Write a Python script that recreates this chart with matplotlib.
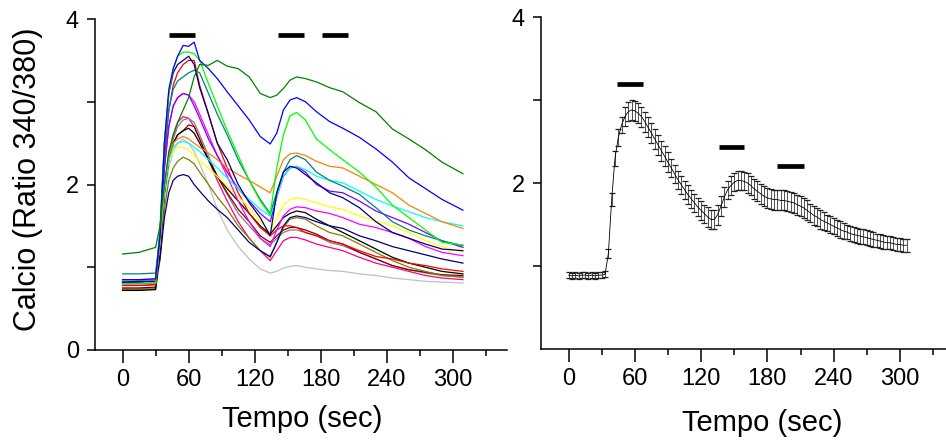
import numpy as np
import matplotlib
matplotlib.use("Agg")
import matplotlib.pyplot as plt
from matplotlib.ticker import FixedLocator

plt.rcParams['font.family'] = ['Liberation Sans', 'DejaVu Sans']

# ---------------- data: left panel (individual cells) ----------------
t_cells = [0, 15, 30, 34, 38, 42, 46, 50, 55, 60, 65, 70, 78, 86, 95, 105, 115, 125,
           134, 140, 146, 152, 158, 166, 176, 188, 200, 215, 230, 245, 260, 275, 290, 309]

cell_dkgreen = [1.16,1.18,1.24,1.5,2.0,2.4,2.6,2.75,2.9,3.05,3.3,3.45,3.44,3.5,3.43,3.4,3.3,3.1,3.05,3.08,3.16,3.26,3.3,3.28,3.24,3.17,3.12,2.99,2.88,2.67,2.55,2.42,2.27,2.13]
cell_blue = [0.85,0.85,0.86,1.4,2.5,3.15,3.4,3.55,3.68,3.67,3.72,3.5,3.4,3.28,3.12,2.95,2.78,2.58,2.49,2.62,2.9,3.02,3.05,3.0,2.88,2.76,2.68,2.57,2.43,2.27,2.08,1.95,1.82,1.69]
cell_lime = [0.8,0.8,0.81,1.5,2.5,3.1,3.4,3.55,3.6,3.6,3.58,3.5,3.22,2.95,2.65,2.35,2.05,1.8,1.63,2.2,2.6,2.83,2.87,2.78,2.55,2.42,2.3,2.15,1.97,1.75,1.6,1.45,1.3,1.27]
cell_navy = [0.82,0.83,0.83,1.4,2.5,3.1,3.35,3.45,3.5,3.55,3.45,3.17,2.85,2.5,2.3,2.0,1.78,1.6,1.38,1.9,2.15,2.22,2.2,2.12,2.02,1.9,1.84,1.72,1.55,1.42,1.35,1.28,1.22,1.2]
cell_red = [0.78,0.78,0.79,1.3,2.3,2.9,3.2,3.35,3.45,3.5,3.5,3.2,2.85,2.5,2.2,1.9,1.65,1.48,1.38,1.45,1.5,1.5,1.48,1.42,1.38,1.32,1.28,1.2,1.13,1.1,1.05,1.02,0.98,0.95]
cell_teal = [0.92,0.92,0.93,1.4,2.4,2.9,3.15,3.25,3.3,3.35,3.38,3.35,3.1,2.85,2.6,2.3,2.05,1.82,1.65,1.9,2.15,2.3,2.35,2.3,2.15,2.05,1.98,1.88,1.72,1.55,1.45,1.38,1.32,1.26]
cell_orange = [0.85,0.85,0.86,1.3,2.0,2.35,2.5,2.55,2.58,2.55,2.5,2.45,2.38,2.3,2.2,2.12,2.05,1.97,1.9,2.1,2.3,2.37,2.38,2.35,2.28,2.22,2.2,2.1,2.0,1.9,1.75,1.65,1.55,1.47]
cell_cyan = [0.84,0.84,0.85,1.3,1.9,2.3,2.45,2.5,2.52,2.5,2.45,2.4,2.3,2.2,2.08,1.95,1.82,1.7,1.62,1.85,2.1,2.2,2.22,2.18,2.1,2.05,2.02,1.92,1.82,1.74,1.67,1.6,1.55,1.5]
cell_purple = [0.84,0.84,0.85,1.3,2.2,2.7,2.95,3.05,3.1,3.08,2.95,2.8,2.55,2.35,2.15,1.95,1.8,1.65,1.55,1.85,2.1,2.2,2.22,2.15,2.0,1.92,1.9,1.8,1.68,1.6,1.52,1.42,1.32,1.24]
cell_magenta = [0.8,0.8,0.81,1.3,2.2,2.7,2.95,3.05,3.1,3.08,3.0,2.85,2.6,2.35,2.1,1.8,1.55,1.35,1.25,1.45,1.62,1.7,1.73,1.72,1.68,1.65,1.6,1.52,1.48,1.42,1.35,1.25,1.18,1.14]
cell_yellow = [0.8,0.8,0.81,1.3,2.0,2.3,2.4,2.45,2.45,2.42,2.35,2.28,2.2,2.1,1.98,1.85,1.72,1.55,1.43,1.6,1.75,1.82,1.84,1.82,1.78,1.73,1.7,1.62,1.56,1.5,1.42,1.32,1.25,1.18]
cell_black = [0.72,0.72,0.73,1.2,1.9,2.3,2.5,2.6,2.65,2.68,2.62,2.5,2.3,2.1,1.95,1.8,1.65,1.5,1.4,1.5,1.6,1.65,1.68,1.66,1.58,1.5,1.42,1.32,1.22,1.12,1.05,1.0,0.95,0.92]
cell_wine = [0.75,0.75,0.76,1.2,1.9,2.3,2.5,2.6,2.65,2.72,2.7,2.55,2.3,2.1,1.9,1.7,1.55,1.38,1.3,1.38,1.45,1.48,1.48,1.45,1.4,1.32,1.28,1.18,1.1,1.02,0.97,0.94,0.91,0.9]
cell_gray = [0.74,0.74,0.75,1.2,1.9,2.35,2.55,2.7,2.78,2.8,2.75,2.6,2.35,2.1,1.88,1.65,1.5,1.35,1.27,1.35,1.42,1.45,1.45,1.42,1.38,1.3,1.26,1.18,1.1,1.02,0.97,0.93,0.9,0.88]
cell_olive = [0.73,0.73,0.74,1.1,1.7,2.05,2.2,2.28,2.33,2.3,2.25,2.15,2.0,1.85,1.7,1.5,1.35,1.2,1.12,1.3,1.48,1.58,1.6,1.58,1.5,1.42,1.38,1.28,1.18,1.08,1.0,0.95,0.9,0.88]
cell_navy2 = [0.82,0.82,0.83,1.1,1.6,1.9,2.05,2.1,2.12,2.1,2.0,1.92,1.8,1.7,1.6,1.45,1.3,1.2,1.13,1.3,1.5,1.6,1.62,1.6,1.55,1.5,1.47,1.38,1.32,1.25,1.2,1.15,1.1,1.05]
cell_pink = [0.78,0.78,0.79,1.2,1.9,2.35,2.6,2.75,2.82,2.8,2.7,2.55,2.3,2.05,1.8,1.55,1.35,1.2,1.08,1.2,1.32,1.36,1.36,1.33,1.28,1.24,1.2,1.12,1.05,1.0,0.95,0.9,0.87,0.85]
cell_ltgray = [0.72,0.72,0.73,1.1,1.8,2.2,2.4,2.5,2.55,2.5,2.4,2.25,2.0,1.7,1.45,1.25,1.1,0.98,0.93,0.95,0.99,1.01,1.02,1.0,0.98,0.96,0.95,0.92,0.9,0.87,0.85,0.83,0.82,0.81]

cells = [
    (cell_ltgray, '#C0C0C0'), (cell_pink, '#FF0080'), (cell_gray, '#808080'),
    (cell_wine, '#800000'), (cell_olive, '#808000'), (cell_black, '#000000'),
    (cell_navy2, '#000080'), (cell_red, '#FF0000'), (cell_yellow, '#FFFF00'),
    (cell_magenta, '#FF00FF'), (cell_purple, '#8000FF'), (cell_cyan, '#00FFFF'),
    (cell_teal, '#008080'), (cell_orange, '#FF8000'), (cell_navy, '#000080'),
    (cell_lime, '#00FF00'), (cell_blue, '#0000FF'), (cell_dkgreen, '#008000'),
]

# stimulus bars (start, end, level)
bars_left = [(42, 66, 3.81), (141, 165, 3.81), (181, 205, 3.81)]
bars_right = [(44, 67, 3.19), (136, 159, 2.43), (189, 213, 2.20)]

# ---------------- data: right panel (mean +/- SEM) ----------------
t_mean = np.arange(0, 307, 3)
mean_r = [0.89,0.88,0.89,0.88,0.89,0.89,0.88,0.89,0.88,0.89,0.89,0.90,
          1.15,1.8,2.3,2.55,2.7,2.8,2.86,2.88,2.87,2.84,2.8,
          2.74,2.67,2.6,2.53,2.46,2.39,2.32,2.25,2.18,2.11,2.04,
          1.98,1.92,1.86,1.81,1.76,1.71,1.67,1.63,1.59,1.56,1.56,
          1.62,1.72,1.83,1.92,1.97,2.01,2.03,2.03,2.02,2.0,1.97,
          1.93,1.9,1.87,1.84,1.82,1.81,1.8,1.8,1.79,1.79,1.78,
          1.77,1.76,1.74,1.72,1.7,1.67,1.64,1.61,1.59,1.56,1.54,
          1.52,1.5,1.48,1.46,1.44,1.42,1.41,1.39,1.38,1.37,1.36,
          1.35,1.34,1.33,1.32,1.31,1.3,1.29,1.28,1.28,1.27,1.26,
          1.26,1.25,1.25]
sem_r = [0.035,0.035,0.035,0.035,0.035,0.035,0.035,0.035,0.035,0.035,0.035,0.035,
         0.05,0.08,0.09,0.1,0.1,0.11,0.11,0.12,0.12,0.12,0.12,
         0.12,0.12,0.12,0.12,0.12,0.12,0.12,0.12,0.11,0.11,0.11,
         0.11,0.11,0.11,0.11,0.11,0.11,0.11,0.11,0.12,0.12,0.12,
         0.12,0.12,0.12,0.11,0.11,0.11,0.11,0.11,0.11,0.12,0.12,
         0.12,0.12,0.12,0.12,0.12,0.12,0.12,0.12,0.12,0.12,0.12,
         0.12,0.12,0.12,0.12,0.12,0.12,0.11,0.11,0.11,0.11,0.11,
         0.1,0.1,0.1,0.1,0.1,0.1,0.09,0.09,0.09,0.09,0.09,
         0.09,0.09,0.09,0.09,0.08,0.08,0.08,0.08,0.08,0.08,0.08,
         0.08,0.08,0.08]

x_major = [0, 60, 120, 180, 240, 300]
x_minor = [30, 90, 150, 210, 270, 330]

# ---------------- figure ----------------
W, H = 946, 441
fig = plt.figure(figsize=(W / 100, H / 100), dpi=100)

ax1 = fig.add_axes([95 / W, (H - 350) / H, 412 / W, 331 / H])
ax2 = fig.add_axes([541 / W, (H - 349) / H, 413 / W, 332 / H])

for vals, col in cells:
    ax1.plot(t_cells, vals, color=col, lw=0.9)

for (a, b, lev) in bars_left:
    ax1.plot([a, b], [lev, lev], color='black', lw=3.4, solid_capstyle='butt')

ax2.errorbar(t_mean, mean_r, yerr=sem_r, fmt='-', color='black', lw=0.6,
             ecolor='#222222', elinewidth=0.55, capsize=2.2, capthick=0.9)
for (a, b, lev) in bars_right:
    ax2.plot([a, b], [lev, lev], color='black', lw=3.4, solid_capstyle='butt')

for ax in (ax1, ax2):
    ax.set_xlim(-25, 349)
    ax.set_ylim(0, 4)
    for s in ('top', 'right'):
        ax.spines[s].set_visible(False)
    for s in ('left', 'bottom'):
        ax.spines[s].set_linewidth(1.1)
    ax.xaxis.set_major_locator(FixedLocator(x_major))
    ax.xaxis.set_minor_locator(FixedLocator(x_minor))
    ax.set_xticklabels([str(v) for v in x_major])
    ax.tick_params(axis='x', which='major', direction='out', length=9, width=1.1,
                   labelsize=17, pad=5)
    ax.tick_params(axis='x', which='minor', direction='out', length=4.5, width=1.1)
    ax.tick_params(axis='y', which='both', direction='out', length=5.5, width=1.1,
                   labelsize=17, pad=6)
    ax.yaxis.set_minor_locator(FixedLocator([1, 3]))

ax1.yaxis.set_major_locator(FixedLocator([0, 2, 4]))
ax1.set_yticklabels(['0', '2', '4'])
ax2.yaxis.set_major_locator(FixedLocator([2, 4]))
ax2.set_yticklabels(['2', '4'])

fig.text(28 / W, 1 - 179 / H, 'Calcio (Ratio 340/380)', rotation=90,
         ha='center', va='center', fontsize=22)
fig.text(302 / W, (H - 427) / H, 'Tempo (sec)', ha='center', va='baseline', fontsize=21)
fig.text(762 / W, (H - 431) / H, 'Tempo (sec)', ha='center', va='baseline', fontsize=21)

fig.savefig('out.png', dpi=100)
